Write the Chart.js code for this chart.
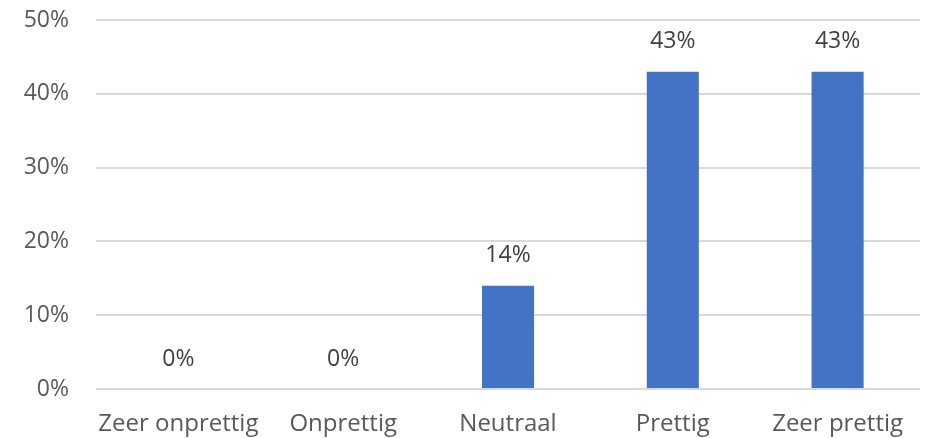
<!DOCTYPE html>
<html>
<head>
<meta charset="utf-8">
<script src="https://cdn.jsdelivr.net/npm/chart.js@4"></script>
<style>
  html, body { margin: 0; padding: 0; background: #fff; }
  #wrap { width: 926px; height: 438px; }
</style>
</head>
<body>
<div id="wrap"><canvas id="grafiek"></canvas></div>
<script>
const categorieen = ['Zeer onprettig', 'Onprettig', 'Neutraal', 'Prettig', 'Zeer prettig'];
const waarden = [0, 0, 14, 43, 43];
const yTicks = [0, 10, 20, 30, 40, 50];

const lettertype = "'Open Sans', 'Noto Sans', sans-serif";

// eigen labels boven de staven (geen datalabels-plugin beschikbaar)
const labelPlugin = {
  id: 'staafLabels',
  afterDatasetsDraw(chart) {
    const ctx = chart.ctx;
    const meta = chart.getDatasetMeta(0);
    ctx.save();
    ctx.font = '23px ' + lettertype;
    ctx.fillStyle = '#404040';
    ctx.textAlign = 'center';
    ctx.textBaseline = 'middle';
    meta.data.forEach((bar, i) => {
      ctx.fillText(waarden[i] + '%', bar.x, bar.y - 30);
    });
    ctx.restore();
  }
};

new Chart(document.getElementById('grafiek'), {
  type: 'bar',
  data: {
    labels: categorieen,
    datasets: [{
      data: waarden,
      backgroundColor: '#4472c4',
      borderWidth: 0,
      categoryPercentage: 1,
      barPercentage: 0.316
    }]
  },
  plugins: [labelPlugin],
  options: {
    responsive: true,
    maintainAspectRatio: false,
    animation: false,
    layout: { padding: { top: 20, right: 6, left: 0, bottom: 0 } },
    plugins: {
      legend: { display: false },
      tooltip: { enabled: false }
    },
    scales: {
      x: {
        grid: { display: false, drawTicks: false },
        border: { display: false },
        ticks: {
          color: '#595959',
          font: { family: lettertype, size: 24 },
          padding: 21,
          maxRotation: 0
        },
        afterFit(scale) { scale.height = 49; }
      },
      y: {
        min: 0,
        max: 50,
        afterBuildTicks(scale) { scale.ticks = yTicks.map(v => ({ value: v })); },
        grid: { color: '#d9d9d9', lineWidth: 2, drawTicks: false },
        border: { display: false },
        ticks: {
          color: '#595959',
          font: { family: lettertype, size: 23 },
          padding: 27,
          callback: v => v + '%'
        },
        afterFit(scale) {
          scale.width = 96;
          scale.paddingTop = 0;
          scale.paddingBottom = 0;
        }
      }
    }
  }
});
</script>
</body>
</html>
